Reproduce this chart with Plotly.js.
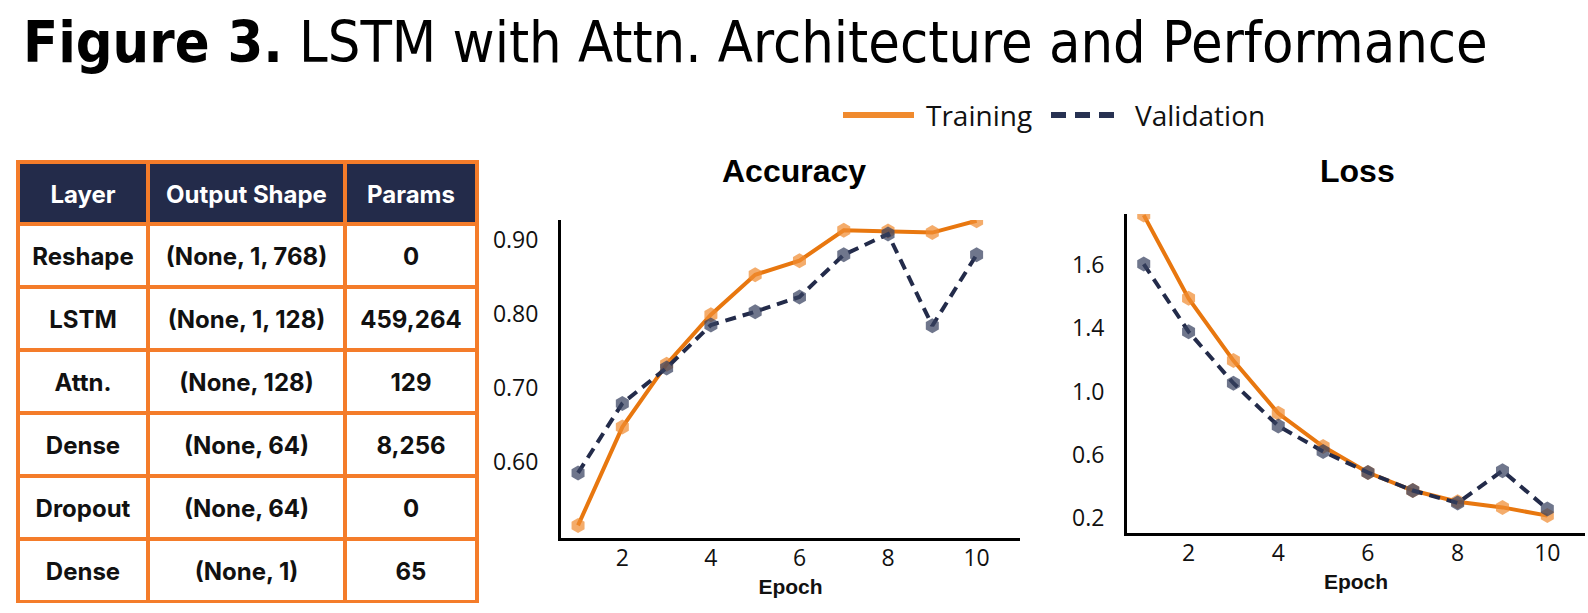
<!DOCTYPE html>
<html>
<head>
<meta charset="utf-8">
<script src="https://cdn.plot.ly/plotly-3.0.1.min.js"></script>
<style>
  html, body { margin: 0; padding: 0; background: #fff; }
  #chart { width: 1588px; height: 613px; }
</style>
</head>
<body>
<div id="chart"></div>
<script>
// values
var epochs = [1, 2, 3, 4, 5, 6, 7, 8, 9, 10];
var accTrain = [0.514, 0.647, 0.732, 0.799, 0.853, 0.872, 0.913, 0.912, 0.910, 0.926];
var accVal = [0.585, 0.679, 0.727, 0.785, 0.803, 0.823, 0.880, 0.908, 0.784, 0.880];
var lossTrain = [2.117, 1.590, 1.196, 0.863, 0.652, 0.488, 0.374, 0.303, 0.267, 0.215];
var lossVal = [1.807, 1.379, 1.053, 0.783, 0.621, 0.488, 0.374, 0.295, 0.499, 0.257];

var accTicks = [0.6, 0.7, 0.8, 0.9];
var accTickText = ['0.60', '0.70', '0.80', '0.90'];
var lossTicks = [0.2, 0.6, 1.0, 1.4, 1.8];
var lossTickText = ['0.2', '0.6', '1.0', '1.4', '1.6'];
var epochTicks = [2, 4, 6, 8, 10];

var tableHead = ['Layer', 'Output Shape', 'Params'];
var layers = ['Reshape', 'LSTM', 'Attn.', 'Dense', 'Dropout', 'Dense'];
var shapes = ['(None, 1, 768)', '(None, 1, 128)', '(None, 128)', '(None, 64)', '(None, 64)', '(None, 1)'];
var params = ['0', '459,264', '129', '8,256', '0', '65'];

var W = 1588, H = 613;
var orange = '#E8770F';
var navy = '#232B4A';
var border = '#F47C2A';
var titleFamily = "'Liberation Sans Narrow', 'DejaVu Sans Condensed', 'Liberation Sans', sans-serif";
var titleBold = 'Figure 3.';
var titleRest = ' LSTM with Attn. Architecture and Performance';

function px(x) { return x / W; }
function py(y) { return 1 - y / H; }

// pick a title size that spans the same width as the reference
function fitTitleSize(target) {
	var ctx = document.createElement('canvas').getContext('2d');
	ctx.font = 'bold 100px ' + titleFamily;
	var w = ctx.measureText(titleBold).width;
	ctx.font = '100px ' + titleFamily;
	w += ctx.measureText(titleRest).width;
	return Math.min(68, 100 * target / w);
}

function makeLine(x, y, xa, ya, color, dash, mcolor, name) {
	return {
		x: x,
		y: y,
		xaxis: xa,
		yaxis: ya,
		type: 'scatter',
		mode: 'lines+markers',
		name: name,
		line: { color: color, width: 4, dash: dash },
		marker: { symbol: 'hexagon', size: 15, color: mcolor, line: { width: 0 } },
		showlegend: false,
		hoverinfo: 'x+y'
	};
}

var tableTrace = {
	type: 'table',
	domain: { x: [px(18), px(477)], y: [py(604), py(162)] },
	columnwidth: [130, 197, 132],
	header: {
		values: tableHead,
		align: 'center',
		height: 62,
		fill: { color: navy },
		line: { color: border, width: 4 },
		font: { family: 'Inter, sans-serif', size: 24, color: '#fff', weight: 'bold' }
	},
	cells: {
		values: [layers, shapes, params],
		align: 'center',
		height: 63,
		fill: { color: '#fff' },
		line: { color: border, width: 4 },
		font: { family: 'Inter, sans-serif', size: 24, color: '#111', weight: 'bold' }
	}
};

var dashStyle = '11px,7px';
var data = [
	tableTrace,
	makeLine(epochs, accTrain, 'x', 'y', orange, 'solid', 'rgba(240,140,50,0.72)', 'Training'),
	makeLine(epochs, accVal, 'x', 'y', navy, dashStyle, 'rgba(55,65,95,0.72)', 'Validation'),
	makeLine(epochs, lossTrain, 'x2', 'y2', orange, 'solid', 'rgba(240,140,50,0.72)', 'Training'),
	makeLine(epochs, lossVal, 'x2', 'y2', navy, dashStyle, 'rgba(55,65,95,0.72)', 'Validation')
];

var tickFont = { family: 'Open Sans, sans-serif', size: 23, color: '#111' };
var epochTitle = { text: 'Epoch', font: { family: 'Liberation Sans, Arial, sans-serif', size: 21, color: '#111', weight: 'bold' }, standoff: 8 };

function xAxis(domain, range) {
	return {
		domain: domain, range: range,
		tickvals: epochTicks, tickfont: tickFont,
		showgrid: false, zeroline: false,
		showline: true, linecolor: '#000', linewidth: 3,
		ticks: '', ticklabelstandoff: -3,
		title: epochTitle, fixedrange: true
	};
}
function yAxis(domain, range, vals, text, anchor) {
	return {
		domain: domain, range: range, anchor: anchor,
		tickvals: vals, ticktext: text, tickfont: tickFont,
		showgrid: false, zeroline: false,
		showline: true, linecolor: '#000', linewidth: 3,
		ticks: '', ticklabelstandoff: 15, fixedrange: true
	};
}

var layout = {
	width: W, height: H,
	margin: { l: 0, r: 0, t: 0, b: 0 },
	paper_bgcolor: '#fff', plot_bgcolor: '#fff',
	showlegend: false,
	xaxis: xAxis([px(561), px(1020)], [0.615, 10.98]),
	yaxis: yAxis([py(538), py(220)], [0.497, 0.927], accTicks, accTickText, 'x'),
	xaxis2: Object.assign(xAxis([px(1127), px(1585)], [0.627, 10.84]), { anchor: 'y2' }),
	yaxis2: yAxis([py(533), py(214)], [0.105, 2.124], lossTicks, lossTickText, 'x2'),
	shapes: [
		{ type: 'line', xref: 'paper', yref: 'paper', x0: px(843), x1: px(914), y0: py(115), y1: py(115),
		  line: { color: '#F08A2E', width: 6 } },
		{ type: 'line', xref: 'paper', yref: 'paper', x0: px(1051), x1: px(1118), y0: py(115), y1: py(115),
		  line: { color: '#283252', width: 6, dash: '15px,9px' } }
	],
	annotations: [
		{ text: '<b>' + titleBold + '</b>' + titleRest, xref: 'paper', yref: 'paper',
		  x: px(21), y: py(42), xanchor: 'left', yanchor: 'middle', showarrow: false,
		  font: { family: titleFamily, size: fitTitleSize(1465), color: '#000' } },
		{ text: 'Training', xref: 'paper', yref: 'paper', x: px(924), y: py(115), xanchor: 'left', yanchor: 'middle',
		  showarrow: false, font: { family: 'Open Sans, sans-serif', size: 28, color: '#111' } },
		{ text: 'Validation', xref: 'paper', yref: 'paper', x: px(1133), y: py(115), xanchor: 'left', yanchor: 'middle',
		  showarrow: false, font: { family: 'Open Sans, sans-serif', size: 28, color: '#111' } },
		{ text: '<b>Accuracy</b>', xref: 'paper', yref: 'paper', x: px(794), y: py(171), xanchor: 'center', yanchor: 'middle',
		  showarrow: false, font: { family: 'Liberation Sans, Arial, sans-serif', size: 32, color: '#000' } },
		{ text: '<b>Loss</b>', xref: 'paper', yref: 'paper', x: px(1357), y: py(171), xanchor: 'center', yanchor: 'middle',
		  showarrow: false, font: { family: 'Liberation Sans, Arial, sans-serif', size: 32, color: '#000' } }
	]
};

Plotly.newPlot('chart', data, layout, { displayModeBar: false, staticPlot: true }).then(function(gd) {
	// plotly tables put text at the top of each cell; nudge it to the middle
	gd.querySelectorAll('.cell-text').forEach(function(t) {
		var tr = t.getAttribute('transform') || '';
		t.setAttribute('transform', 'translate(0,15) ' + tr);
	});
});
</script>
</body>
</html>
